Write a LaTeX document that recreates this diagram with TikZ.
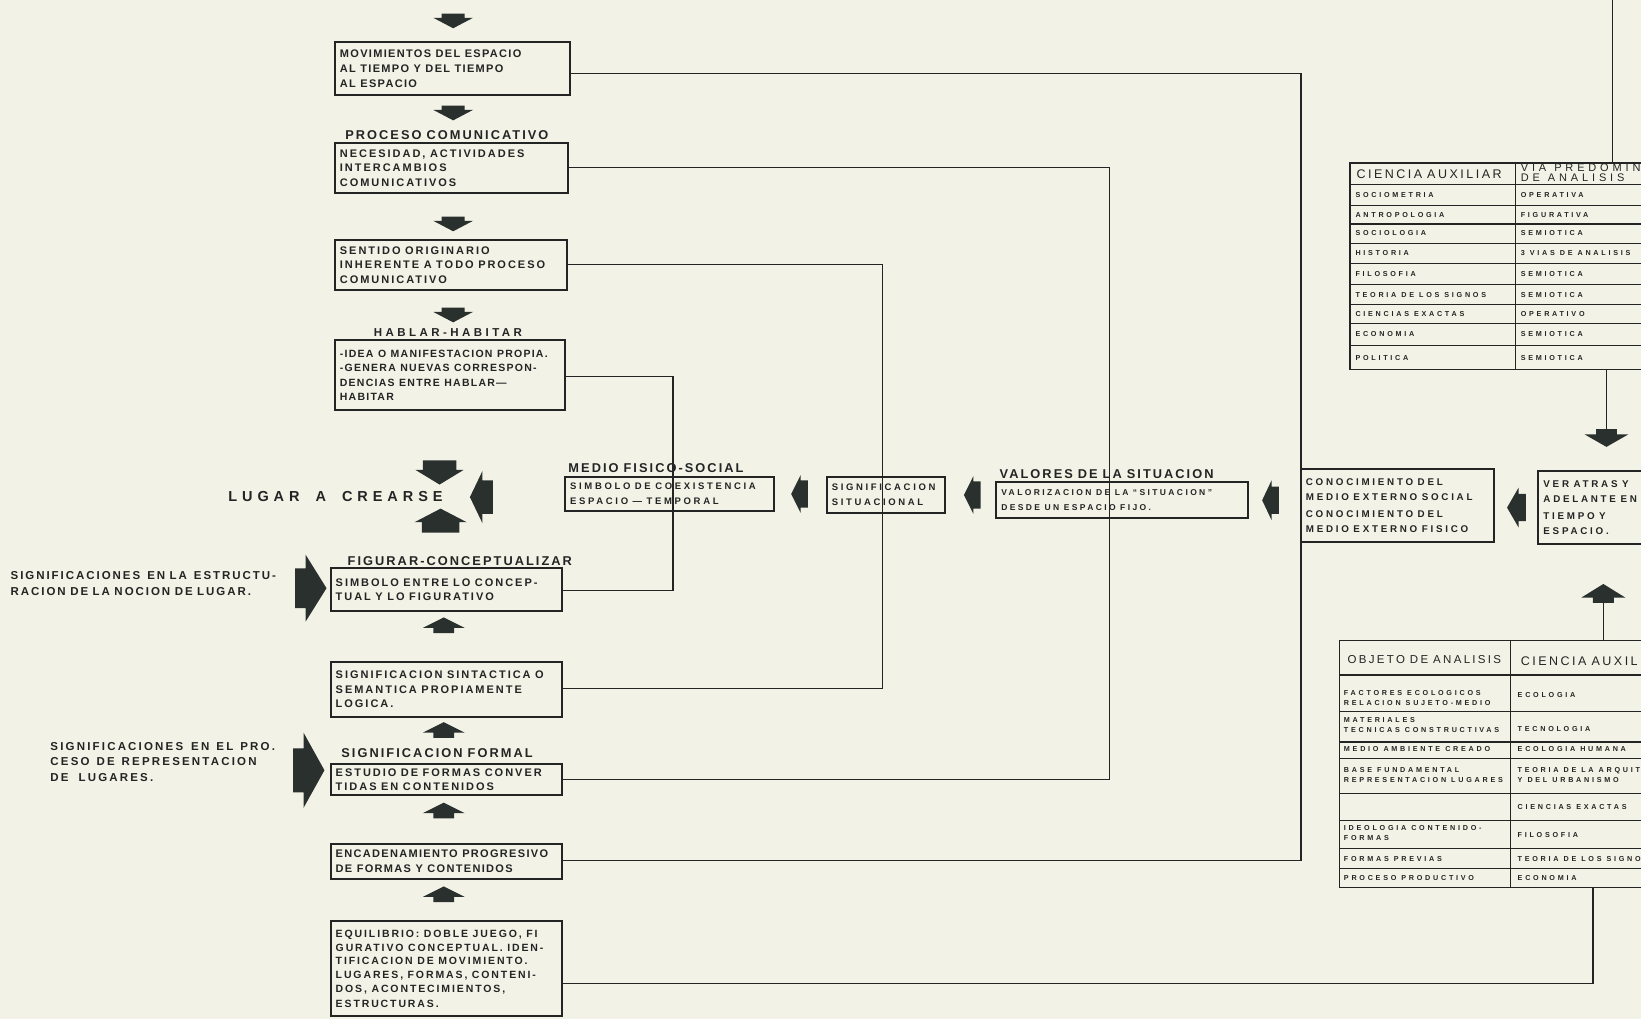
\documentclass[tikz,border=0pt]{standalone}
\usepackage{fontspec}
\setmainfont{Liberation Sans}
\newfontfamily\bxf{Liberation Sans}[LetterSpace=12]
\newfontfamily\bxw{Liberation Sans}[LetterSpace=18]
\newfontfamily\ttlf{Liberation Sans}[LetterSpace=16]
\newfontfamily\hdf{Liberation Sans}[LetterSpace=20]
\newfontfamily\hdw{Liberation Sans}[LetterSpace=35]
\newfontfamily\smf{Liberation Sans}[LetterSpace=28]
\newfontfamily\tbf{Liberation Sans}[LetterSpace=38]
\newfontfamily\lugf{Liberation Sans}[LetterSpace=34]
\newfontfamily\hbf{Liberation Sans}[LetterSpace=30]
\newfontfamily\lblf{Liberation Sans}[LetterSpace=19]
\newfontfamily\lblg{Liberation Sans}[LetterSpace=17]
\newcommand{\sps}[1]{\spaceskip=#1\relax}
\newcommand{\WS}[1][4.5pt]{\hspace{#1}}
\definecolor{bg}{RGB}{243,242,230}
\definecolor{ink}{RGB}{35,37,36}
\definecolor{afill}{RGB}{42,48,45}
\tikzset{
 boxst/.style={draw=ink, line width=2pt, inner xsep=5pt, inner ysep=1pt, align=left, text=ink, font=\bxf\bfseries\fontsize{11}{14.5}\selectfont},
 wbox/.style={boxst, font=\bxw\bfseries\fontsize{11}{14.5}\selectfont},
 smbox/.style={boxst, font=\smf\bfseries\fontsize{9.5}{15}\selectfont},
 tabst/.style={draw=ink, line width=1.6pt},
 tline/.style={draw=ink, line width=1.1pt},
 conn/.style={draw=ink, line width=1.4pt},
 ttl/.style={inner sep=0pt, text=ink, font=\ttlf\bfseries\fontsize{12.8}{15}\selectfont\sps{5pt}},
 lbl/.style={inner sep=0pt, anchor=west, text=ink, align=left, font=\lblf\bfseries\fontsize{11.5}{16}\selectfont},
 tbt/.style={inner sep=0pt, anchor=west, align=left, text=ink, font=\tbf\bfseries\fontsize{7.2}{10}\selectfont\sps{5pt}},
 thd/.style={inner sep=0pt, anchor=west, align=left, text=ink, font=\hdf\fontsize{12.5}{10}\selectfont\sps{5pt}},
}
\newcommand{\bxnode}[7][boxst]{%
  \pgfmathsetmacro\bw{(#5-#3)*1.0466}%
  \pgfmathsetmacro\bh{(#6-#4)*1.0466}%
  \pgfmathsetmacro\tw{\bw-10}%
  \node[#1, minimum width=\bw pt, minimum height=\bh pt, text width=\tw pt] (#2) at ({(#3+#5)/2},{(#4+#6)/2}) {#7};}
\newcommand{\barrow}[7]{\fill[afill, shift={(#1,#2)}, rotate=#3] (0,-#6) -- (#5,-#6) -- (#5,-#7) -- (#4,0) -- (#5,#7) -- (#5,#6) -- (0,#6) -- cycle;}
\begin{document}
\begin{tikzpicture}[x=1.0466pt, y=-1.0466pt]
\path[use as bounding box, fill=bg] (0,0) rectangle (1568,974);
\clip (0,0) rectangle (1568,974);

% ---------- left column ----------
\bxnode{b1}{320}{40}{545}{91}{\fontsize{11}{15.5}\selectfont MOVIMIENTOS\WS DEL\WS ESPACIO\\AL\WS TIEMPO\WS Y\WS DEL\WS TIEMPO\\AL\WS ESPACIO}
\node[ttl] (t2) at (427,129) {PROCESO COMUNICATIVO};
\bxnode[wbox]{b2}{320}{137}{543}{184}{NECESIDAD,\WS ACTIVIDADES\\INTERCAMBIOS\\COMUNICATIVOS}
\bxnode[wbox]{b3}{320}{229}{542}{277}{SENTIDO\WS ORIGINARIO\\INHERENTE\WS A\WS TODO\WS PROCESO\\COMUNICATIVO}
\node[ttl, font=\hbf\bfseries\fontsize{11.5}{14}\selectfont] (t4) at (428,318) {HABLAR-HABITAR};
\bxnode{b4}{320}{325}{540}{392}{\fontsize{10.5}{14.5}\selectfont -IDEA\WS O\WS MANIFESTACION\WS PROPIA.\\-GENERA\WS NUEVAS\WS CORRESPON-\\DENCIAS\WS ENTRE\WS HABLAR—\\HABITAR}
\node[inner sep=0pt, anchor=west, text=ink, font=\lugf\bfseries\fontsize{14.5}{16}\selectfont] (lugar) at (218,474) {LUGAR\WS[16pt]A\WS[16pt]CREARSE};
\node[ttl, anchor=west] (t5) at (332,536) {FIGURAR-CONCEPTUALIZAR};
\bxnode[wbox]{b5}{316}{543}{537}{584}{SIMBOLO\WS ENTRE\WS LO\WS CONCEP-\\TUAL\WS Y\WS LO\WS FIGURATIVO}
\node[lbl, font=\lblg\bfseries\fontsize{11.5}{16}\selectfont] (l1) at (10,558) {SIGNIFICACIONES\WS[7pt]EN\WS LA\WS[7pt]ESTRUCTU-\\RACION\WS DE\WS LA\WS NOCION\WS DE\WS LUGAR.};
\bxnode[wbox]{b6}{316}{633}{537}{685}{SIGNIFICACION\WS SINTACTICA\WS O\\SEMANTICA\WS PROPIAMENTE\\LOGICA.}
\node[lbl, font=\lblf\bfseries\fontsize{11.5}{15.5}\selectfont] (l2) at (48,728) {SIGNIFICACIONES\WS[8pt]EN\WS[7pt]EL\WS[7pt]PRO.\\CESO\WS[7pt]DE\WS[7pt]REPRESENTACION\\DE\WS[10pt]LUGARES.};
\node[ttl, anchor=west] (t7) at (326,720) {SIGNIFICACION FORMAL};
\bxnode[wbox]{b7}{316}{730}{537}{760}{\fontsize{11}{13.5}\selectfont ESTUDIO\WS DE\WS FORMAS\WS CONVER\\TIDAS\WS EN\WS CONTENIDOS}
\bxnode{b8}{316}{806}{537}{840}{ENCADENAMIENTO\WS PROGRESIVO\\DE\WS FORMAS\WS Y\WS CONTENIDOS}
\bxnode[wbox]{b9}{316}{880}{537}{971}{\fontsize{10.5}{13.8}\selectfont EQUILIBRIO:\WS DOBLE\WS JUEGO,\WS FI\\GURATIVO\WS CONCEPTUAL.\WS IDEN-\\TIFICACION\WS DE\WS MOVIMIENTO.\\LUGARES,\WS FORMAS,\WS CONTENI-\\DOS,\WS ACONTECIMIENTOS,\\ESTRUCTURAS.}

% ---------- middle row ----------
\node[ttl, anchor=west] (tm) at (543,447) {MEDIO FISICO-SOCIAL};
\bxnode[smbox]{bm}{540}{456}{740}{488}{SIMBOLO\WS DE\WS COEXISTENCIA\\ESPACIO\WS—\WS TEMPORAL}
\bxnode[smbox]{bs}{790}{456}{903}{490}{SIGNIFICACION\\SITUACIONAL}
\node[ttl, anchor=west] (tv) at (955,453) {VALORES DE LA SITUACION};
\bxnode[smbox]{bv}{952}{461}{1192}{495}{\fontsize{8.5}{15}\selectfont VALORIZACION\WS DE\WS LA\WS “SITUACION”\\DESDE\WS UN\WS ESPACIO\WS FIJO.}
\bxnode[smbox]{bc}{1243}{448}{1428}{518}{\fontsize{9.8}{15}\selectfont CONOCIMIENTO\WS DEL\\MEDIO\WS EXTERNO\WS SOCIAL\\[2pt]CONOCIMIENTO\WS DEL\\MEDIO\WS EXTERNO\WS FISICO}
\bxnode[smbox]{ba}{1470}{450}{1700}{520}{\fontsize{9.8}{15}\selectfont VER\WS ATRAS\WS Y\\ADELANTE\WS EN\WS EL\\[2pt]TIEMPO\WS Y\\ESPACIO.}

% ---------- table 1 ----------
\bxnode[tabst]{tab1}{1290}{156}{1620}{353}{}
\foreach \yy in {176,196,214,233,252,272,291,309,330} \draw[tline] (1290,\yy) -- (1620,\yy);
\draw[tline] (1448,156) -- (1448,353);
\node[thd] (h1a) at (1296,166) {CIENCIA AUXILIAR};
\node[thd, font=\hdw\fontsize{11}{10.5}\selectfont] (h1b) at (1453,165) {VIA\WS[8pt]PREDOMINANTE\\DE\WS[8pt]ANALISIS};
\foreach \yy/\lt/\rt [count=\i] in {186/SOCIOMETRIA/OPERATIVA, 205/ANTROPOLOGIA/FIGURATIVA, 223/SOCIOLOGIA/SEMIOTICA, 242/HISTORIA/3 VIAS DE ANALISIS, 262/FILOSOFIA/SEMIOTICA, 282/TEORIA DE LOS SIGNOS/SEMIOTICA, 300/CIENCIAS EXACTAS/OPERATIVO, 319/ECONOMIA/SEMIOTICA, 342/POLITICA/SEMIOTICA}
 {\node[tbt] (ta\i) at (1295,\yy) {\lt}; \node[tbt] (tb\i) at (1453,\yy) {\rt};}

% ---------- table 2 ----------
\bxnode[tabst]{tab2}{1280}{612}{1620}{848}{}
\foreach \yy in {645,680,709,725,758,784,811,830} \draw[tline] (1280,\yy) -- (1620,\yy);
\draw[tline] (1443,612) -- (1443,848);
\node[thd, anchor=center, font=\hdf\fontsize{11.5}{10}\selectfont\sps{5pt}] (h2a) at (1361,630) {OBJETO DE ANALISIS};
\node[thd] (h2b) at (1453,632) {CIENCIA AUXILIAR};
\foreach \yl/\lt/\yr/\rt [count=\i] in {667/{FACTORES ECOLOGICOS\\RELACION SUJETO-MEDIO}/664/ECOLOGIA, 693/{MATERIALES\\TECNICAS CONSTRUCTIVAS}/697/TECNOLOGIA, 716/MEDIO AMBIENTE CREADO/716/ECOLOGIA HUMANA, 741/{BASE FUNDAMENTAL\\REPRESENTACION LUGARES}/741/{TEORIA DE LA ARQUITECTURA\\Y DEL URBANISMO}, 796/{IDEOLOGIA CONTENIDO-\\FORMAS}/798/FILOSOFIA, 821/FORMAS PREVIAS/821/TEORIA DE LOS SIGNOS, 839/PROCESO PRODUCTIVO/839/ECONOMIA}
 {\node[tbt] (tc\i) at (1284,\yl) {\lt}; \node[tbt] (td\i) at (1450,\yr) {\rt};}
\node[tbt] (td8) at (1450,771) {CIENCIAS EXACTAS};

% ---------- connectors ----------
\coordinate (c1a) at (1243,70); \coordinate (c1b) at (1243,822);
\draw[conn] (b1.east |- c1a) -- (c1a) -- (c1b) -- (b8.east |- c1b);
\coordinate (c2a) at (1060,160); \coordinate (c2b) at (1060,745);
\draw[conn] (b2.east |- c2a) -- (c2a) -- (c2b) -- (b7.east |- c2b);
\coordinate (c3a) at (843,253); \coordinate (c3b) at (843,658);
\draw[conn] (b3.east |- c3a) -- (c3a) -- (c3b) -- (b6.east |- c3b);
\coordinate (c4a) at (643,360); \coordinate (c4b) at (643,564);
\draw[conn] (b4.east |- c4a) -- (c4a) -- (c4b) -- (b5.east |- c4b);
\coordinate (c5a) at (1522,940);
\draw[conn] (b9.east |- c5a) -- (c5a) -- (c5a |- tab2.south);
\coordinate (c6) at (1541,0);
\draw[conn] (c6) -- (c6 |- tab1.north);
\coordinate (v1) at (1535,410);
\draw[conn] (v1 |- tab1.south) -- (v1);
\coordinate (v2) at (1532,576);
\draw[conn] (v2 |- tab2.north) -- (v2);

% ---------- block arrows ----------
\barrow{433}{13}{-90}{14}{4}{11}{19}
\barrow{433}{101}{-90}{14}{4}{11}{19}
\barrow{433}{207}{-90}{14}{4}{11}{19}
\barrow{433}{294}{-90}{14}{4}{11}{19}
\barrow{420}{440}{-90}{23}{9}{16}{23}
\barrow{471}{475}{180}{22}{10}{16}{25}
\barrow{421}{509}{90}{23}{10}{18}{25}
\barrow{282}{562}{0}{30}{10}{19}{32}
\barrow{424}{605}{90}{15}{5}{10}{20}
\barrow{424}{705}{90}{15}{5}{10}{20}
\barrow{280}{736}{0}{30}{10}{21}{36}
\barrow{424}{782}{90}{15}{5}{10}{20}
\barrow{424}{862}{90}{15}{5}{10}{20}
\barrow{772}{472}{180}{16}{7}{13}{18}
\barrow{937}{473}{180}{16}{7}{13}{18}
\barrow{1222}{478}{180}{16}{7}{13}{19}
\barrow{1458}{485}{180}{18}{7}{13}{19}
\barrow{1535}{410}{-90}{17}{5}{10}{21}
\barrow{1532}{576}{90}{18}{5}{10}{21}
\end{tikzpicture}
\end{document}
